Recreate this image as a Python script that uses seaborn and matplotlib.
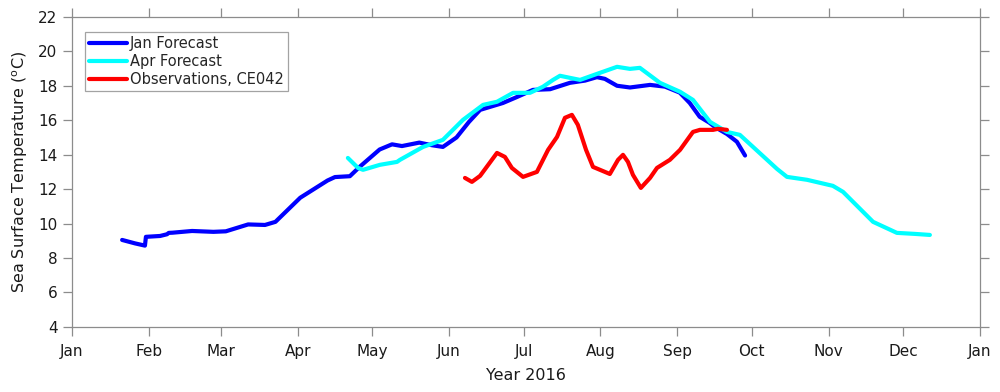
import numpy as np
import pandas as pd
import matplotlib
matplotlib.use("Agg")
import matplotlib.pyplot as plt
import matplotlib.dates as mdates
import seaborn as sns

# days since 2016-01-01 and sea surface temperature (deg C)
jan_days = [20.2, 25.4, 29.4, 29.8, 35.5, 38.3, 39.0, 40.5, 48.4, 57, 62, 71, 77.8, 82,
            92, 103, 106, 112, 116, 124, 129, 133, 140, 145, 149.5, 155, 160, 164.5,
            173.7, 179.4, 185.8, 192.7, 200.7, 206.8, 211.6, 214.8, 219.7, 224.9, 233,
            239, 245, 249, 253, 257, 259.2, 264, 268, 271.3]
jan_temp = [9.05, 8.85, 8.72, 9.23, 9.28, 9.38, 9.46, 9.47, 9.57, 9.52, 9.55, 9.95, 9.92, 10.1,
            11.5, 12.5, 12.7, 12.75, 13.3, 14.3, 14.6, 14.5, 14.7, 14.55, 14.45, 15.0, 15.9, 16.6,
            17.0, 17.35, 17.76, 17.8, 18.17, 18.3, 18.5, 18.4, 18.0, 17.9, 18.05,
            17.95, 17.6, 17.0, 16.2, 15.85, 15.6, 15.2, 14.75, 13.95]

apr_days = [111.2, 115.3, 117.3, 124.1, 131.0, 132.2, 141.5, 149.5, 157.6, 165.7, 171.3,
            177.8, 184.6, 189.8, 193.9, 196.7, 200.7, 204.8, 212.8, 219.7, 224.9, 228.9,
            237.0, 245.1, 250.3, 257.2, 264.0, 269.2, 274.5, 284.2, 288.2, 296.3, 306.7,
            310.8, 322.9, 332.5, 339.8, 345.8]
apr_temp = [13.81, 13.23, 13.12, 13.41, 13.58, 13.70, 14.45, 14.86, 16.02, 16.89, 17.07,
            17.59, 17.59, 17.94, 18.34, 18.58, 18.46, 18.34, 18.75, 19.10, 18.98, 19.04,
            18.17, 17.65, 17.18, 15.90, 15.32, 15.15, 14.45, 13.17, 12.71, 12.54, 12.19,
            11.84, 10.10, 9.46, 9.40, 9.34]

obs_days = [158.4, 161.2, 164.5, 171.3, 174.5, 177.3, 181.8, 187.4, 191.9, 195.5, 198.7,
            201.5, 203.9, 207.2, 210.0, 216.8, 220.1, 222.1, 224.1, 226.1, 229.3, 233.0,
            235.8, 241.0, 245.1, 250.3, 253.1, 258.4, 260.4, 264.0]
obs_temp = [12.65, 12.42, 12.77, 14.10, 13.87, 13.23, 12.71, 13.00, 14.28, 15.03, 16.14,
            16.31, 15.73, 14.28, 13.29, 12.88, 13.70, 13.99, 13.58, 12.83, 12.07, 12.65,
            13.23, 13.70, 14.28, 15.32, 15.44, 15.44, 15.50, 15.44]

series = [
    ("Jan Forecast", jan_days, jan_temp, "#0000ff"),
    ("Apr Forecast", apr_days, apr_temp, "#00ffff"),
    ("Observations, CE042", obs_days, obs_temp, "#ff0000"),
]

sns.set_style("ticks")
plt.rcParams["font.family"] = ["DejaVu Sans"]

start = pd.Timestamp("2016-01-01")
fig = plt.figure(figsize=(10, 3.92), dpi=100)
ax = fig.add_axes([0.072, 0.166, 0.908, 0.791])

for name, days, temps, color in series:
    df = pd.DataFrame({"date": start + pd.to_timedelta(days, unit="D"), "sst": temps})
    sns.lineplot(data=df, x="date", y="sst", ax=ax, color=color, linewidth=3.0,
                 label=name, sort=False, solid_capstyle="round", solid_joinstyle="round")

ax.set_xlim(start, pd.Timestamp("2017-01-01"))
ax.set_ylim(4, 22)
ax.set_yticks(np.arange(4, 23, 2))
ax.xaxis.set_major_locator(mdates.MonthLocator())
ax.xaxis.set_major_formatter(mdates.DateFormatter("%b"))

ax.set_xlabel("Year 2016", fontsize=11.5, color="#1a1a1a", labelpad=6)
ax.set_ylabel(r"Sea Surface Temperature ($^{\rm o}$C)", fontsize=11.5, color="#1a1a1a",
              labelpad=6)

for sp in ax.spines.values():
    sp.set_visible(True)
    sp.set_color("#8c8c8c")
    sp.set_linewidth(0.9)
ax.tick_params(direction="out", top=True, right=True, length=6.5, width=0.9,
               color="#8c8c8c", labelsize=11, labelcolor="#1a1a1a")
ax.tick_params(axis="x", pad=6)
ax.tick_params(axis="y", pad=4)

leg = ax.legend(loc="upper left", bbox_to_anchor=(0.006, 0.975), fontsize=10.5,
                frameon=True, fancybox=False, edgecolor="#8c8c8c", handlelength=2.6,
                borderpad=0.3, labelspacing=0.2, handletextpad=0.2, borderaxespad=0.5)
leg.get_frame().set_linewidth(0.9)

fig.savefig("out.png", dpi=100)
